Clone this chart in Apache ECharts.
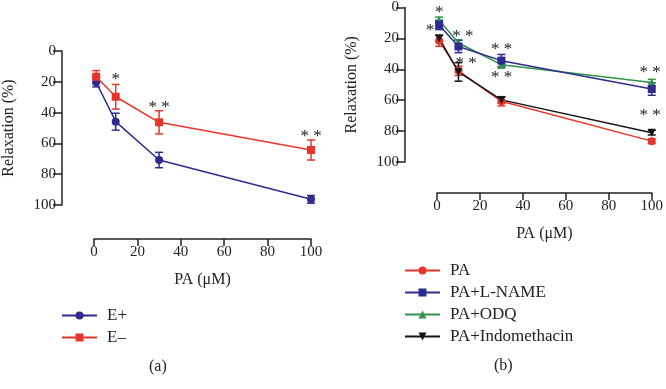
<!DOCTYPE html>
<html><head><meta charset="utf-8">
<script src="https://cdn.jsdelivr.net/npm/echarts@6/dist/echarts.min.js"></script>
<style>html,body{margin:0;padding:0;background:#fff}#c{width:666px;height:389px}</style>
</head><body><div id="c"></div>
<script>
// ---- data ----
const doses = [1, 10, 30, 100];
const xTicks = [0, 20, 40, 60, 80, 100];
const yTicks = [0, 20, 40, 60, 80, 100];
// panel (a)
const ePlus = [20.3, 45.9, 70.8, 96.3];
const ePlusErr = [3, 5.5, 5, 2.5];
const eMinus = [16.7, 29.7, 46.3, 64.3];
const eMinusErr = [4, 8, 7.5, 6.5];
const starsAx = [10, 30, 100];
const starsAy = [16.7, 34.6, 53.9];
const starsAtxt = ['*', '* *', '* *'];
// panel (b)
const pa = [21.6, 41, 60.7, 86.5];
const paErr = [3.5, 3, 3, 1.5];
const paLname = [11.3, 25.2, 34.4, 52.8];
const paLnameErr = [3, 4, 4, 4];
const paOdq = [8.2, 23, 37, 48.5];
const paOdqErr = [2, 2, 2, 2];
const paIndo = [20, 41.7, 59.8, 81];
const paIndoErr = [2, 6, 2, 1.5];
const starsBx = [1, -3.2, 12.1, 13.6, 30.1, 30.1, 99.2, 99.2];
const starsBy = [1.5, 12.8, 17.1, 34.2, 25.4, 43.6, 40.4, 67.7];
const starsBtxt = ['*', '*', '* *', '* *', '* *', '* *', '* *', '* *'];

const FONT = 'Liberation Serif';
const BLUE = '#2e2b8f', RED = '#e8352b', GREEN = '#2f9448', BLACK = '#151515';
const DOWN = 'path://M0,0L10,0L5,9Z';

function lineSeries(name, gi, vals, color, symbol) {
  return {
    type: 'line', name: name, xAxisIndex: gi, yAxisIndex: gi,
    data: doses.map((x, i) => [x, vals[i]]),
    symbol: symbol, symbolSize: 8, showAllSymbol: true,
    lineStyle: {color: color, width: 1.5},
    itemStyle: {color: color},
    z: 3, animation: false
  };
}
function errSeries(gi, vals, errs, color) {
  return {
    type: 'custom', xAxisIndex: gi, yAxisIndex: gi, silent: true, z: 2,
    data: doses.map((x, i) => [x, vals[i] - errs[i], vals[i] + errs[i]]),
    encode: {x: 0, y: [1, 2]},
    renderItem: function (params, api) {
      const lo = api.coord([api.value(0), api.value(1)]);
      const hi = api.coord([api.value(0), api.value(2)]);
      const w = 4;
      const st = {stroke: color, lineWidth: 1.5};
      return {type: 'group', children: [
        {type: 'line', shape: {x1: lo[0], y1: lo[1], x2: hi[0], y2: hi[1]}, style: st},
        {type: 'line', shape: {x1: lo[0] - w, y1: lo[1], x2: lo[0] + w, y2: lo[1]}, style: st},
        {type: 'line', shape: {x1: hi[0] - w, y1: hi[1], x2: hi[0] + w, y2: hi[1]}, style: st}
      ]};
    },
    animation: false
  };
}
function starSeries(gi, xs, ys, txts) {
  return {
    type: 'custom', xAxisIndex: gi, yAxisIndex: gi, silent: true, z: 4,
    data: xs.map((x, i) => [x, ys[i]]),
    renderItem: function (params, api) {
      const p = api.coord([api.value(0), api.value(1)]);
      return {type: 'text', x: p[0], y: p[1] + 3,
        style: {text: txts[params.dataIndex], fill: '#222', font: '17px "' + FONT + '"',
          textAlign: 'center', textVerticalAlign: 'middle'}};
    },
    animation: false
  };
}
function xAx(gi, offset) {
  return {
    type: 'value', gridIndex: gi, min: 0, max: 100, interval: 20, offset: offset,
    name: 'PA (\u03bcM)', nameLocation: 'middle', nameGap: 33,
    nameTextStyle: {fontFamily: FONT, fontSize: 16, color: '#222'},
    axisLine: {show: true, onZero: false, lineStyle: {color: '#222', width: 1.5}},
    axisTick: {show: true, length: 7, lineStyle: {color: '#222', width: 1.5}},
    axisLabel: {fontFamily: FONT, fontSize: 15, color: '#222', margin: 6,
      formatter: v => xTicks.indexOf(v) >= 0 ? String(v) : ''},
    splitLine: {show: false}
  };
}
function yAx(gi, offset) {
  return {
    type: 'value', gridIndex: gi, min: 0, max: 100, interval: 20, inverse: true, offset: offset,
    name: 'Relaxation (%)', nameLocation: 'middle', nameGap: 45,
    nameTextStyle: {fontFamily: FONT, fontSize: 16, color: '#222'},
    axisLine: {show: true, onZero: false, lineStyle: {color: '#222', width: 1.5}},
    axisTick: {show: true, length: 9, lineStyle: {color: '#222', width: 1.5}},
    axisLabel: {fontFamily: FONT, fontSize: 15, color: '#222', margin: 6,
      formatter: v => yTicks.indexOf(v) >= 0 ? String(v) : ''},
    splitLine: {show: false}
  };
}
const legendText = {fontFamily: FONT, fontSize: 17, color: '#222', lineHeight: 16, padding: [0, 0, 0, 5]};

const chart = echarts.init(document.getElementById('c'), null, {renderer: 'canvas'});
chart.setOption({
  animation: false,
  backgroundColor: '#fff',
  grid: [
    {left: 94, right: 355, top: 51, bottom: 184},
    {left: 437, right: 11, top: 6, bottom: 227}
  ],
  xAxis: [xAx(0, 34), xAx(1, 31)],
  yAxis: [yAx(0, 32), yAx(1, 32)],
  legend: [
    {data: ['E+', 'E\u2013'], orient: 'vertical', left: 61, top: 307, padding: 0,
      itemWidth: 35, itemHeight: 10, itemGap: 5, textStyle: legendText, selectedMode: false},
    {data: ['PA', 'PA+L-NAME', 'PA+ODQ', 'PA+Indomethacin'], orient: 'vertical', left: 404, top: 262, padding: 0,
      itemWidth: 35, itemHeight: 10, itemGap: 5, textStyle: legendText, selectedMode: false}
  ],
  graphic: [
    {type: 'text', left: 149, top: 359, style: {text: '(a)', font: '16px "' + FONT + '"', fill: '#222'}},
    {type: 'text', left: 494, top: 358, style: {text: '(b)', font: '16px "' + FONT + '"', fill: '#222'}}
  ],
  series: [
    errSeries(0, ePlus, ePlusErr, BLUE),
    errSeries(0, eMinus, eMinusErr, RED),
    lineSeries('E+', 0, ePlus, BLUE, 'circle'),
    lineSeries('E\u2013', 0, eMinus, RED, 'rect'),
    starSeries(0, starsAx, starsAy, starsAtxt),
    errSeries(1, pa, paErr, RED),
    errSeries(1, paIndo, paIndoErr, BLACK),
    errSeries(1, paOdq, paOdqErr, GREEN),
    errSeries(1, paLname, paLnameErr, BLUE),
    lineSeries('PA', 1, pa, RED, 'circle'),
    lineSeries('PA+Indomethacin', 1, paIndo, BLACK, DOWN),
    lineSeries('PA+ODQ', 1, paOdq, GREEN, 'triangle'),
    lineSeries('PA+L-NAME', 1, paLname, BLUE, 'rect'),
    starSeries(1, starsBx, starsBy, starsBtxt)
  ]
});
</script></body></html>
